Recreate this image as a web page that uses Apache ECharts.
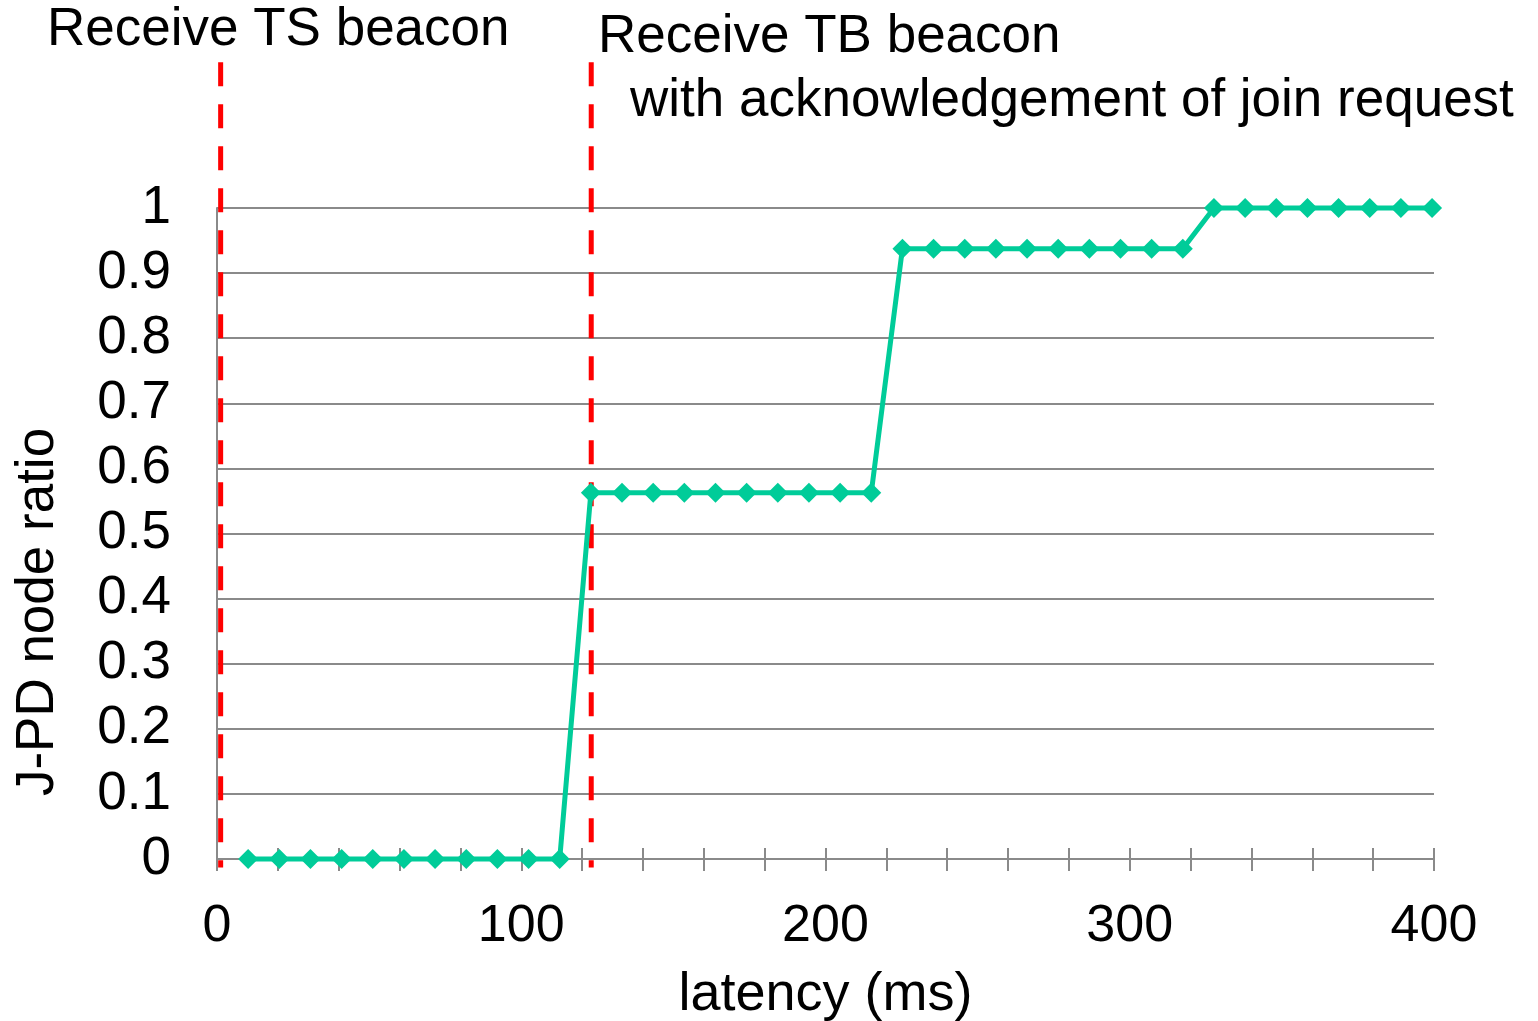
<!DOCTYPE html>
<html>
<head>
<meta charset="utf-8">
<script src="https://cdn.jsdelivr.net/npm/echarts@6/dist/echarts.min.js"></script>
<style>
html,body{margin:0;padding:0;background:#fff;}
#chart{width:1538px;height:1021px;}
</style>
</head>
<body>
<div id="chart"></div>
<script>
// latency (ms)
var latency = [10.24, 20.48, 30.72, 40.96, 51.2, 61.44, 71.68, 81.92, 92.16, 102.4,
  112.64, 122.88, 133.12, 143.36, 153.6, 163.84, 174.08, 184.32, 194.56, 204.8,
  215.04, 225.28, 235.52, 245.76, 256, 266.24, 276.48, 286.72, 296.96, 307.2,
  317.44, 327.68, 337.92, 348.16, 358.4, 368.64, 378.88, 389.12, 399.36];
// J-PD node ratio
var ratio = [0, 0, 0, 0, 0, 0, 0, 0, 0, 0,
  0, 0.5625, 0.5625, 0.5625, 0.5625, 0.5625, 0.5625, 0.5625, 0.5625, 0.5625,
  0.5625, 0.9375, 0.9375, 0.9375, 0.9375, 0.9375, 0.9375, 0.9375, 0.9375, 0.9375,
  0.9375, 1, 1, 1, 1, 1, 1, 1, 1];
// event markers (latency, ms)
var eventTS = 1.2;
var eventTB = 123;
var eventYRange = [1.224, -0.013];
var annotations = ["Receive TS beacon", "Receive TB beacon", "with acknowledgement of join request"];
var xTickLabels = [0, 100, 200, 300, 400];
var yAxisTitle = "J-PD node ratio";
var xAxisTitle = "latency (ms)";

var FONT = 'Liberation Sans, Arial, sans-serif';
var GRAY = '#8a8a8a';

var chart = echarts.init(document.getElementById('chart'), null, {renderer: 'canvas'});

function pairs(xs, ys) { return xs.map(function (x, i) { return [x, ys[i]]; }); }

var option = {
  backgroundColor: '#ffffff',
  animation: false,
  grid: {left: 217, right: 104, top: 208, bottom: 162, containLabel: false, outerBoundsMode: 'none'},
  xAxis: [{
    type: 'value', min: 0, max: 400, interval: 20, position: 'bottom',
    name: xAxisTitle, nameLocation: 'middle', nameGap: 109,
    nameTextStyle: {fontFamily: FONT, fontSize: 54, color: '#000'},
    axisLine: {show: true, lineStyle: {color: GRAY, width: 2}},
    axisTick: {show: true, inside: false, length: 12, lineStyle: {color: GRAY, width: 2}},
    axisLabel: {
      fontFamily: FONT, fontSize: 52, color: '#000', margin: 42,
      formatter: function (v) { return xTickLabels.indexOf(v) >= 0 ? String(v) : ''; }
    },
    splitLine: {show: false}
  }, {
    type: 'value', min: 0, max: 400, interval: 20, position: 'bottom',
    axisLine: {show: false},
    axisTick: {show: true, inside: true, length: 11, lineStyle: {color: GRAY, width: 2}},
    axisLabel: {show: false},
    splitLine: {show: false}
  }],
  yAxis: {
    type: 'value', min: 0, max: 1, interval: 0.1,
    axisLine: {show: true, lineStyle: {color: GRAY, width: 2}},
    axisTick: {show: false},
    axisLabel: {
      fontFamily: FONT, fontSize: 53, color: '#000', margin: 46,
      formatter: function (v) { return String(Math.round(v * 10) / 10); }
    },
    splitLine: {show: true, lineStyle: {color: GRAY, width: 2}}
  },
  graphic: [
    {type: 'text', x: 47, y: 30, style: {text: annotations[0], font: '53px ' + FONT, fill: '#000', textAlign: 'left', textVerticalAlign: 'middle'}},
    {type: 'text', x: 598, y: 37, style: {text: annotations[1], font: '53px ' + FONT, fill: '#000', textAlign: 'left', textVerticalAlign: 'middle'}},
    {type: 'text', x: 630, y: 101, style: {text: annotations[2], font: '53px ' + FONT, fill: '#000', textAlign: 'left', textVerticalAlign: 'middle'}},
    {type: 'text', x: 38, y: 612, rotation: Math.PI / 2, style: {text: yAxisTitle, font: '53px ' + FONT, fill: '#000', textAlign: 'center', textVerticalAlign: 'middle'}}
  ],
  series: [
    {
      type: 'line', xAxisIndex: 0, clip: false, silent: true,
      data: [[eventTS, eventYRange[0]], [eventTS, eventYRange[1]]],
      symbol: 'none',
      lineStyle: {color: '#ff0000', width: 5, type: [24, 18]},
      z: 3
    },
    {
      type: 'line', xAxisIndex: 0, clip: false, silent: true,
      data: [[eventTB, eventYRange[0]], [eventTB, eventYRange[1]]],
      symbol: 'none',
      lineStyle: {color: '#ff0000', width: 5, type: [24, 18]},
      z: 3
    },
    {
      type: 'line', xAxisIndex: 0, clip: false,
      data: pairs(latency, ratio),
      symbol: 'diamond', symbolSize: 20,
      itemStyle: {color: '#00cc99'},
      lineStyle: {color: '#00cc99', width: 5},
      z: 4
    }
  ]
};
chart.setOption(option);
</script>
</body>
</html>
